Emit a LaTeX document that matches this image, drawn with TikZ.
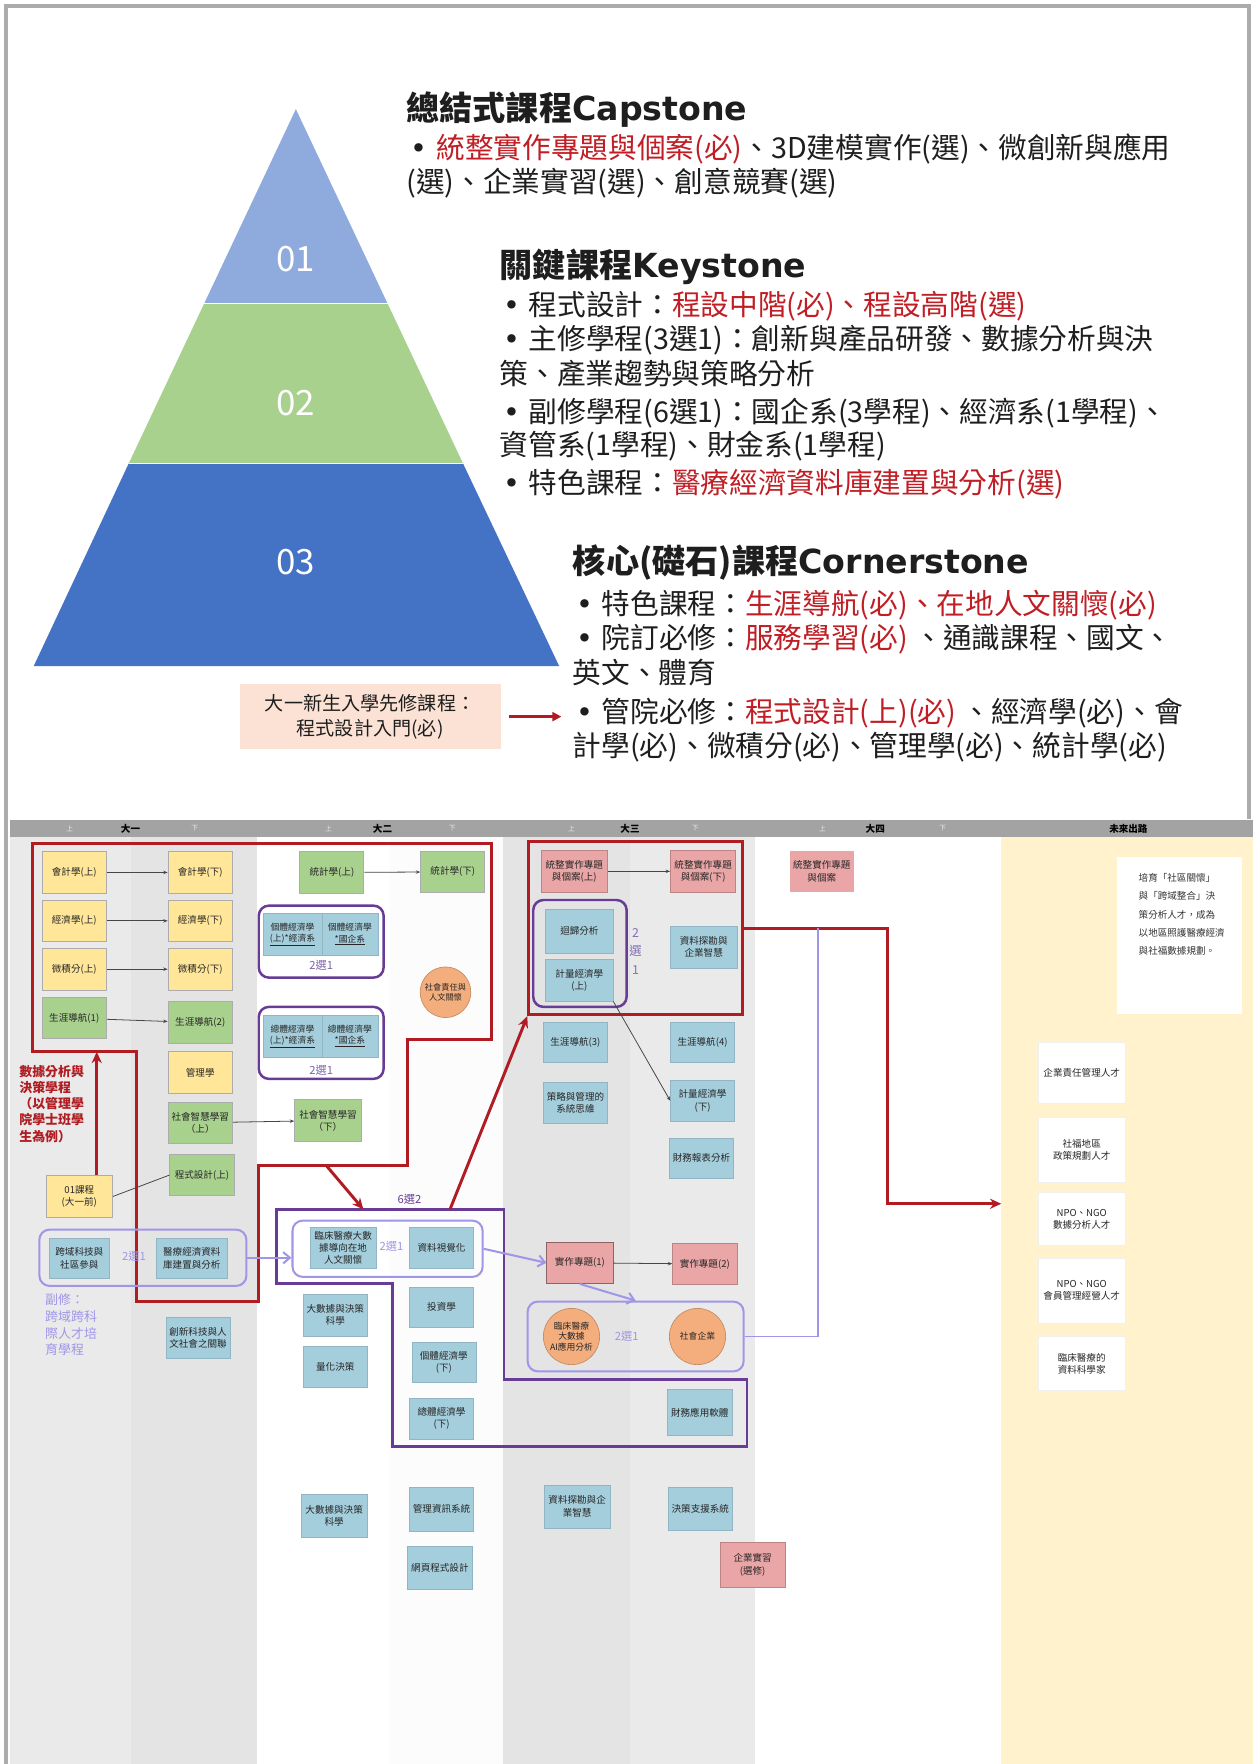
\documentclass[tikz,border=0pt]{standalone}
\usepackage{fontspec}
\setmainfont{Noto Sans CJK TC}
\newfontfamily\latf{DejaVu Sans}
\usetikzlibrary{arrows.meta}
\definecolor{redtxt}{RGB}{192,30,36}
\definecolor{redl}{RGB}{176,28,34}
\definecolor{pyrA}{RGB}{143,170,220}
\definecolor{pyrB}{RGB}{169,209,142}
\definecolor{pyrC}{RGB}{68,114,196}
\definecolor{peach}{RGB}{251,226,213}
\definecolor{hdr}{RGB}{163,163,163}
\definecolor{colg}{RGB}{228,228,228}
\definecolor{colg2}{RGB}{234,234,234}
\definecolor{coly}{RGB}{255,242,204}
\definecolor{yel}{RGB}{255,230,153}
\definecolor{grn}{RGB}{169,209,142}
\definecolor{blu}{RGB}{165,206,220}
\definecolor{pnk}{RGB}{234,166,166}
\definecolor{org}{RGB}{244,174,125}
\definecolor{lavc}{RGB}{160,150,232}
\definecolor{dpc}{RGB}{104,60,150}
\definecolor{dpt}{RGB}{125,100,170}
\definecolor{txt}{RGB}{30,30,30}
\newcommand{\rt}[1]{\textcolor{redtxt}{#1}}
\newcommand{\bul}{{\latf •}\hspace{0.3em}}
\begin{document}
\begin{tikzpicture}[x=1pt,y=-1pt,
  tline/.style={anchor=west, inner sep=0, font=\fontsize{25.5}{28}\selectfont, text=txt},
  ttl/.style={anchor=west, inner sep=0, font=\bfseries\fontsize{29.5}{31}\selectfont, text=txt},
  pnum/.style={text=white, font=\fontsize{31}{31}\selectfont},
  cbox/.style={rectangle, minimum width=57, minimum height=37, inner sep=0.5, align=center, font=\fontsize{8.5}{10.8}\selectfont, text=black!85},
  ybox/.style={cbox, fill=yel, draw=gray!65, line width=0.8},
  gbox/.style={cbox, fill=grn, draw=gray!65, line width=0.8},
  bbox/.style={cbox, fill=blu, draw=blu!88!black, line width=0.4},
  pbox/.style={cbox, fill=pnk, draw=pnk!80!black, line width=0.6},
  obox/.style={circle, minimum size=50, inner sep=0, align=center, font=\fontsize{7.8}{9.6}\selectfont, fill=org, draw=org!80!black, line width=0.6, text=black!85},
  wbox/.style={cbox, fill=white, draw=gray!12, minimum width=77},
  lavframe/.style={rectangle, draw=lavc, line width=1.8, rounded corners=9},
  purframe/.style={rectangle, draw=dpc, line width=2.2, rounded corners=9},
  tarr/.style={-{Stealth[length=4,width=3]}, draw=gray!55!black, line width=0.7},
  thinl/.style={draw=gray!55!black, line width=0.7},
  rline/.style={draw=redl, line width=2.6},
  rarr/.style={rline, -{Stealth[length=10,width=9]}},
  larr/.style={draw=lavc, line width=1.8, -{Straight Barb[length=6,width=10]}},
  lavtxt/.style={text=lavc, font=\fontsize{10}{12}\selectfont, inner sep=0},
  hlab/.style={font=\bfseries\fontsize{8.5}{9}\selectfont, text=black, inner sep=0},
  hsub/.style={font=\fontsize{6}{7}\selectfont, text=gray!15, inner sep=0}
]
\useasboundingbox (0,0) rectangle (1114,1568);
\fill[white] (0,0) rectangle (1114,1568);

% ---------- top panel frame ----------
\draw[gray!65, line width=3.5] (5,1568) -- (5,5) -- (1110,5) -- (1110,728);

% ---------- pyramid ----------
\fill[pyrA] (263,97) -- (344.6,270) -- (181.4,270) -- cycle;
\fill[pyrB] (181.4,270) -- (344.6,270) -- (411.6,412) -- (114.4,412) -- cycle;
\fill[pyrC] (114.4,412) -- (411.6,412) -- (497,592) -- (30,592) -- cycle;
\draw[white, line width=1] (181.4,270) -- (344.6,270) (114.4,412) -- (411.6,412);
\node[pnum] (n1) at (263,230) {01};
\node[pnum] (n2) at (263,358) {02};
\node[pnum] (n3) at (263,500) {03};

% ---------- top texts ----------
\node[ttl] (tcap) at (361,97) {總結式課程{\latf Capstone}};
\node[tline] (l1) at (365,132) {\bul\rt{統整實作專題與個案(必)}、3D建模實作(選)、微創新與應用};
\node[tline] (l2) at (361,163) {(選)、企業實習(選)、創意競賽(選)};
\node[ttl] (tkey) at (444,237) {關鍵課程{\latf Keystone}};
\node[tline] (k1l) at (447,272) {\bul 程式設計：\rt{程設中階(必)、程設高階(選)}};
\node[tline] (k2l) at (447,302) {\bul 主修學程(3選1)：創新與產品研發、數據分析與決};
\node[tline] (k3l) at (444,332) {策、產業趨勢與策略分析};
\node[tline] (k4l) at (447,367) {\bul 副修學程(6選1)：國企系(3學程)、經濟系(1學程)、};
\node[tline] (k5l) at (444,397) {資管系(1學程)、財金系(1學程)};
\node[tline] (k6l) at (447,430) {\bul 特色課程：\rt{醫療經濟資料庫建置與分析(選)}};
\node[ttl] (tcor) at (509,500) {核心(礎石)課程{\latf Cornerstone}};
\node[tline] (c1l) at (512,538) {\bul 特色課程：\rt{生涯導航(必)、在地人文關懷(必)}};
\node[tline] (c2l) at (512,568) {\bul 院訂必修：\rt{服務學習(必)} 、通識課程、國文、};
\node[tline] (c3l) at (509,598) {英文、體育};
\node[tline] (c4l) at (512,634) {\bul 管院必修：\rt{程式設計(上)(必)} 、經濟學(必)、會};
\node[tline] (c5l) at (509,664) {計學(必)、微積分(必)、管理學(必)、統計學(必)};

\node[fill=peach, minimum width=232, minimum height=58, align=center, inner sep=0,
      font=\fontsize{17}{22}\selectfont, text=txt] (pre0) at (329,637) {大一新生入學先修課程：\\程式設計入門(必)};
\draw[draw=redl, line width=2.4, -{Triangle[length=8,width=8]}, shorten <=7, shorten >=13] (pre0.east) -- (c4l.west |- pre0.east);

% ---------- grid backgrounds ----------
\fill[colg2] (9,744) rectangle (116,1568);
\fill[colg] (116,744) rectangle (228,1568);
\fill[white!98!gray] (347,744) rectangle (447,1568);
\fill[colg] (447,744) rectangle (560,1568);
\fill[colg2] (560,744) rectangle (671,1568);
\fill[coly] (890,744) rectangle (1114,1568);
\fill[hdr] (9,729) rectangle (1114,744);
\node[hsub] (hu1) at (62,736.5) {上};
\node[hlab] (h1) at (116,736.5) {大一};
\node[hsub] (hd1) at (173,736.5) {下};
\node[hsub] (hu2) at (292,736.5) {上};
\node[hlab] (h2) at (340,736.5) {大二};
\node[hsub] (hd2) at (402,736.5) {下};
\node[hsub] (hu3) at (508,736.5) {上};
\node[hlab] (h3) at (560,736.5) {大三};
\node[hsub] (hd3) at (618,736.5) {下};
\node[hsub] (hu4) at (731,736.5) {上};
\node[hlab] (h4) at (778,736.5) {大四};
\node[hsub] (hd4) at (838,736.5) {下};
\node[hlab] (h5) at (1003,736.5) {未來出路};

% ---------- region outlines ----------
\draw[rline] (29,750) -- (437,750) -- (437,924) -- (362,924) -- (362,1036) -- (230,1036)
   -- (230,1157) -- (121,1157) -- (121,935) -- (29,935) -- cycle;
\draw[draw=dpc, line width=2.4] (246,1075) -- (448,1075) -- (448,1226) -- (664,1226) -- (664,1286)
   -- (349,1286) -- (349,1141) -- (246,1141) -- cycle;
\node[rectangle, rline, minimum width=190, minimum height=154, inner sep=0] (redbox) at (565,825) {};

% ---------- 大一 ----------
\node[ybox] (a1) at (66,775.5) {會計學(上)};
\node[ybox] (a2) at (178,775.5) {會計學(下)};
\node[ybox] (b1) at (66,818.5) {經濟學(上)};
\node[ybox] (b2) at (178,818.5) {經濟學(下)};
\node[ybox] (c1) at (66,861.5) {微積分(上)};
\node[ybox] (c2) at (178,861.5) {微積分(下)};
\node[gbox] (d1) at (66,905) {生涯導航(1)};
\node[gbox] (d2) at (178,909) {生涯導航(2)};
\node[ybox] (e2) at (178,953.5) {管理學};
\node[gbox] (f2) at (178,998) {社會智慧學習\\（上）};
\node[gbox] (g2) at (179.5,1044.5) {程式設計(上)};
\node[ybox, minimum width=59] (pre) at (70.5,1063.5) {01課程\\(大一前)};
\node[text=redl, font=\bfseries\fontsize{11.5}{14.3}\selectfont, align=left, anchor=north west, inner sep=0] (rlab) at (17,947)
  {數據分析與\\決策學程\\（以管理學\\院學士班學\\生為例）};
\node[lavframe, minimum width=184, minimum height=50] (g1) at (127,1118) {};
\node[bbox, minimum width=53, minimum height=35] (L1) at (70.5,1118.5) {跨域科技與\\社區參與};
\node[bbox, minimum width=63, minimum height=35] (L2) at (170.5,1118.5) {醫療經濟資料\\庫建置與分析};
\node[lavtxt] (g1t) at (119,1117) {2選1};
\node[text=lavc, font=\fontsize{11.5}{14.8}\selectfont, align=left, anchor=north west, inner sep=0] (minor) at (40,1150)
  {副修：\\跨域跨科\\際人才培\\育學程};
\node[bbox, minimum height=36] (h2b) at (176,1189) {創新科技與人\\文社會之關聯};

% ---------- 大二 ----------
\node[gbox] (s1) at (295,775.5) {統計學(上)};
\node[gbox] (s2) at (402.5,775) {統計學(下)};
\node[purframe, minimum width=111, minimum height=64] (ch1) at (285.5,837) {};
\node[bbox, minimum width=52, font=\fontsize{7.8}{10}\selectfont] (m1) at (260,830.5) {個體經濟學\\\underline{(上)*經濟系}};
\node[bbox, minimum width=50, font=\fontsize{7.8}{10}\selectfont] (m2) at (311,830.5) {個體經濟學\\\underline{*國企系}};
\node[text=dpt, font=\fontsize{10}{12}\selectfont, inner sep=0] (ch1t) at (285.5,858) {2選1};
\node[purframe, minimum width=111, minimum height=64] (ch2) at (285.5,927) {};
\node[bbox, minimum width=52, font=\fontsize{7.8}{10}\selectfont] (M1) at (260,921) {總體經濟學\\\underline{(上)*經濟系}};
\node[bbox, minimum width=50, font=\fontsize{7.8}{10}\selectfont] (M2) at (311,921) {總體經濟學\\\underline{*國企系}};
\node[text=dpt, font=\fontsize{10}{12}\selectfont, inner sep=0] (ch2t) at (285.5,951) {2選1};
\node[obox, minimum size=45, font=\fontsize{7.3}{9}\selectfont] (circ) at (396,882) {社會責任與\\人文關懷};
\node[gbox, minimum width=59] (f3) at (291.5,996) {社會智慧學習\\（下）};

\node[text=dpc, font=\fontsize{10}{12}\selectfont, inner sep=0] (six) at (364,1066) {6選2};
\node[lavframe, minimum width=169, minimum height=50] (g6) at (344.5,1110) {};
\node[bbox, minimum width=58, minimum height=36] (kk1) at (305,1109) {臨床醫療大數\\據導向在地\\人文關懷};
\node[lavtxt] (g6t) at (348,1108) {2選1};
\node[bbox, minimum height=36] (kk2) at (392.5,1109) {資料視覺化};
\node[bbox] (t1) at (298,1169) {大數據與決策\\科學};
\node[bbox, minimum height=36] (t2) at (298,1215) {量化決策};
\node[bbox, minimum height=36] (u1) at (392.5,1162) {投資學};
\node[bbox, minimum height=36] (u2) at (394.5,1211) {個體經濟學\\(下)};
\node[bbox, minimum height=36] (u3) at (392.5,1261) {總體經濟學\\(下)};
\node[bbox, minimum width=58, minimum height=38] (v1) at (297,1347) {大數據與決策\\科學};
\node[bbox, minimum height=39] (v2) at (392.5,1341.5) {管理資訊系統};
\node[bbox, minimum width=58, minimum height=39] (v3) at (391,1393.5) {網頁程式設計};

% ---------- 大三 ----------
\node[pbox, minimum width=59] (p1) at (510.5,774.5) {統整實作專題\\與個案(上)};
\node[pbox, minimum width=58] (p2) at (625,774.5) {統整實作專題\\與個案(下)};
\node[purframe, minimum width=83, minimum height=95] (ch3) at (515.5,847.5) {};
\node[bbox, minimum width=60, minimum height=39] (r1) at (515,827.5) {迴歸分析};
\node[bbox, minimum width=60] (r2) at (515,871.5) {計量經濟學\\(上)};
\node[text=dpt!80!lavc, font=\fontsize{11}{16.5}\selectfont, align=center, inner sep=0] (ch3t) at (565,845.5) {2\\選\\1};
\node[bbox, minimum width=59, minimum height=38] (r3) at (625.5,842) {資料探勘與\\企業智慧};
\node[bbox, minimum height=35] (q1) at (511.5,926.5) {生涯導航(3)};
\node[bbox, minimum height=35] (q2) at (624.5,926.5) {生涯導航(4)};
\node[bbox, minimum height=36] (q3) at (511.5,980) {策略與管理的\\系統思維};
\node[bbox] (q4) at (624.5,978.5) {計量經濟學\\(下)};
\node[bbox, minimum height=35] (q5) at (623.5,1029.5) {財務報表分析};
\node[pbox, minimum width=59, draw=pnk!60!black] (w1) at (515.5,1122.5) {實作專題(1)};
\node[pbox] (w2) at (626.5,1123.5) {實作專題(2)};
\node[lavframe, minimum width=192, minimum height=62] (g3) at (565,1188) {};
\node[obox] (o1) at (508,1188) {臨床醫療\\大數據\\AI應用分析};
\node[lavtxt] (g3t) at (557,1188) {2選1};
\node[obox] (o2) at (620,1188) {社會企業};
\node[bbox, minimum width=58, minimum height=41] (x1) at (622,1255.5) {財務應用軟體};
\node[bbox, minimum width=58, minimum height=38] (y1) at (513,1339) {資料探勘與企\\業智慧};
\node[bbox, minimum height=38] (y2) at (622.5,1341) {決策支援系統};
\node[pbox, minimum width=58, minimum height=40] (z1) at (669,1391) {企業實習\\(選修)};

% ---------- 大四 ----------
\node[pbox, draw=none] (p3) at (730.5,774.5) {統整實作專題\\與個案};

% ---------- 未來出路 ----------
\node[rectangle, fill=white, minimum width=111, minimum height=139, inner sep=0] (note) at (1048.5,831.5) {};
\node[anchor=north west, align=left, inner sep=0, font=\fontsize{8.5}{16.3}\selectfont, text=black!80] (notet) at (1012,776)
  {培育「社區關懷」\\與「跨域整合」決\\策分析人才，成為\\以地區照護醫療經濟\\與社福數據規劃。};
\node[wbox, minimum height=55] (fu1) at (961.5,953.5) {企業責任管理人才};
\node[wbox, minimum height=58] (fu2) at (961.5,1022) {社福地區\\政策規劃人才};
\node[wbox, minimum height=47] (fu3) at (961.5,1083.5) {NPO、NGO\\數據分析人才};
\node[wbox, minimum height=58] (fu4) at (961.5,1147) {NPO、NGO\\會員管理經營人才};
\node[wbox, minimum height=48] (fu5) at (961.5,1212) {臨床醫療的\\資料科學家};

% ---------- connectors ----------
\draw[tarr] (a1) -- (a2);
\draw[tarr] (b1) -- (b2);
\draw[tarr] (c1) -- (c2);
\draw[tarr] (d1) -- (d2);
\draw[tarr] (s1) -- (s2);
\draw[tarr] (f2) -- (f3);
\draw[tarr] (p1) -- (p2);
\draw[tarr] (w1) -- (w2);
\draw[thinl] (pre.east) -- (g2.west);
\draw[tarr] (r2.south east) -- (q4.west);

\coordinate (ru) at (86,935);
\draw[rarr] (pre.north -| ru) -- (ru);
\coordinate (ro1) at (290,1036);
\coordinate (sp1) at (323,1075);
\draw[rarr] (ro1) -- (sp1);
\coordinate (sp2) at (400,1075);
\draw[rarr] (sp2) -- (redbox.south west);
\coordinate (rk) at (789,1070);
\coordinate (fut) at (890,1070);
\draw[rarr] (redbox.east) -| (rk) -- (fut);

\draw[larr] (g1.east) -- (g1.east -| g6.west);
\draw[larr] (g6.east) -- (w1.west);
\draw[larr] (w1.south) -- (g3.north);
\coordinate (rj) at (727,825);
\draw[draw=lavc, line width=1.4] (g3.east) -| (rj);
\end{tikzpicture}
\end{document}
